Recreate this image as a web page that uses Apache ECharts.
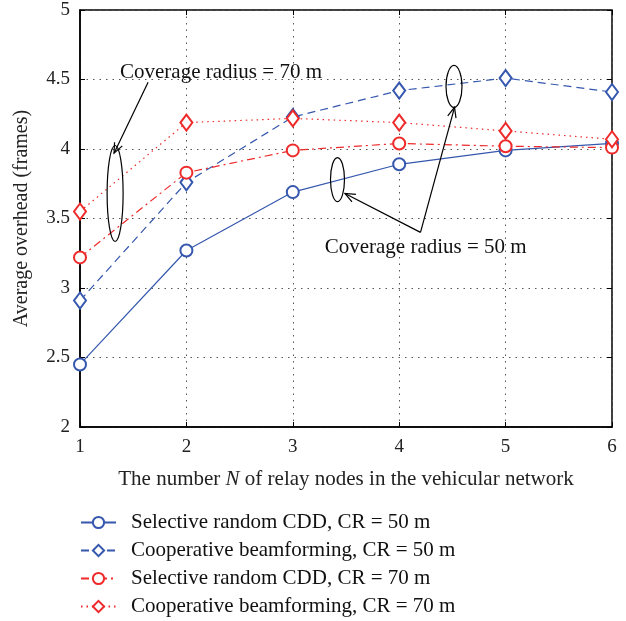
<!DOCTYPE html>
<html>
<head>
<meta charset="utf-8">
<script src="https://cdn.jsdelivr.net/npm/echarts@6/dist/echarts.min.js"></script>
<style>
  html, body { margin: 0; padding: 0; background: #fff; }
  #chart { width: 626px; height: 621px; }
</style>
</head>
<body>
<div id="chart"></div>
<script>
// relay nodes N
const relayNodes = [1, 2, 3, 4, 5, 6]

// average overhead (frames)
const cddCR50 = [2.45, 3.27, 3.69, 3.89, 3.99, 4.04]
const beamCR50 = [2.91, 3.76, 4.23, 4.42, 4.51, 4.41]
const cddCR70 = [3.22, 3.83, 3.99, 4.04, 4.02, 4.01]
const beamCR70 = [3.55, 4.19, 4.22, 4.19, 4.13, 4.07]

const seriesNames = [
  'Selective random CDD, CR = 50 m',
  'Cooperative beamforming, CR = 50 m',
  'Selective random CDD, CR = 70 m',
  'Cooperative beamforming, CR = 70 m'
]

const yTicks = [2, 2.5, 3, 3.5, 4, 4.5, 5]

const BLUE = '#3557ad'
const RED = '#ee2a2a'
const FONT = 'Liberation Serif'

const chart = echarts.init(document.getElementById('chart'))

const pairs = vals => relayNodes.map((n, i) => [n, vals[i]])

const makeSeries = (name, vals, color, symbol, dash, size) => ({
  name,
  type: 'line',
  data: pairs(vals),
  symbol,
  symbolSize: size,
  showAllSymbol: true,
  lineStyle: { color, width: 1.2, type: dash },
  itemStyle: { color, borderColor: color, borderWidth: 1.2 },
  emphasis: { disabled: true },
  z: 3
})

const tickStyle = { inside: true, length: 5, lineStyle: { color: '#000', width: 1 } }

const option = {
  animation: false,
  backgroundColor: '#fff',
  textStyle: { fontFamily: FONT },
  grid: {
    left: 80, right: 14, top: 10, bottom: 194,
    show: true, borderColor: '#000', borderWidth: 1.5
  },
  legend: {
    orient: 'vertical',
    left: 80,
    top: 512,
    padding: 0,
    itemWidth: 35,
    itemHeight: 14,
    itemGap: 7,
    textStyle: { fontFamily: FONT, fontSize: 21, color: '#111', padding: [0, 0, 0, 10] },
    data: seriesNames
  },
  xAxis: [
    {
      type: 'value',
      min: 1, max: 6, interval: 1,
      axisLine: { lineStyle: { color: '#000', width: 1.5 } },
      axisTick: tickStyle,
      axisLabel: { fontFamily: FONT, fontSize: 19, color: '#222', margin: 11 },
      splitLine: { show: true, lineStyle: { color: '#555', type: [1.5, 5], width: 1 } },
      name: 'The number {i|N} of relay nodes in the vehicular network',
      nameLocation: 'middle',
      nameGap: 42,
      nameTextStyle: {
        fontFamily: FONT, fontSize: 21, color: '#222',
        rich: { i: { fontFamily: FONT, fontSize: 21, fontStyle: 'italic', color: '#222' } }
      }
    },
    {
      type: 'value', position: 'top',
      min: 1, max: 6, interval: 1,
      axisLine: { show: false },
      axisTick: tickStyle,
      axisLabel: { show: false },
      splitLine: { show: false }
    }
  ],
  yAxis: [
    {
      type: 'value',
      min: 2, max: 5, interval: 0.5,
      axisLine: { show: true, lineStyle: { color: '#000', width: 1.5 } },
      axisTick: { show: true, ...tickStyle },
      axisLabel: {
        fontFamily: FONT, fontSize: 19, color: '#222', margin: 10,
        formatter: v => (yTicks.includes(v) ? String(v) : '')
      },
      splitLine: { show: true, lineStyle: { color: '#555', type: [1.5, 5], width: 1 } },
      name: 'Average overhead (frames)',
      nameLocation: 'middle',
      nameGap: 48,
      nameTextStyle: { fontFamily: FONT, fontSize: 20, color: '#222' }
    },
    {
      type: 'value', position: 'right',
      min: 2, max: 5, interval: 0.5,
      axisLine: { show: false },
      axisTick: { show: true, ...tickStyle },
      axisLabel: { show: false },
      splitLine: { show: false }
    }
  ],
  series: [
    makeSeries(seriesNames[0], cddCR50, BLUE, 'emptyCircle', 'solid', 12),
    makeSeries(seriesNames[1], beamCR50, BLUE, 'emptyDiamond', [8, 5], [12, 16]),
    makeSeries(seriesNames[2], cddCR70, RED, 'emptyCircle', [8, 4, 2, 4], 12),
    makeSeries(seriesNames[3], beamCR70, RED, 'emptyDiamond', [1.5, 4], [12, 16])
  ]
}

chart.setOption(option)

// annotations, placed in data coordinates
const px = (x, y) => chart.convertToPixel({ gridIndex: 0 }, [x, y])

const ellipse = (x, y, rx, ry) => {
  const [cx, cy] = px(x, y)
  return {
    type: 'ellipse',
    shape: { cx, cy, rx, ry },
    style: { fill: null, stroke: '#000', lineWidth: 1.2 },
    z: 10
  }
}

const arrow = (from, to) => {
  const a = px(from[0], from[1])
  const b = px(to[0], to[1])
  const ang = Math.atan2(b[1] - a[1], b[0] - a[0])
  const len = 11, spread = 0.4
  const h1 = [b[0] - len * Math.cos(ang - spread), b[1] - len * Math.sin(ang - spread)]
  const h2 = [b[0] - len * Math.cos(ang + spread), b[1] - len * Math.sin(ang + spread)]
  return [
    { type: 'polyline', shape: { points: [a, b] }, style: { stroke: '#000', lineWidth: 1.2, fill: null }, z: 10 },
    { type: 'polyline', shape: { points: [h1, b, h2] }, style: { stroke: '#000', lineWidth: 1.2, fill: null }, z: 10 }
  ]
}

const label = (x, y, text) => {
  const [lx, ly] = px(x, y)
  return {
    type: 'text',
    x: lx, y: ly,
    style: { text, fontFamily: FONT, fontSize: 21, fill: '#111', verticalAlign: 'middle', align: 'left' },
    z: 11
  }
}

chart.setOption({
  graphic: [
    ellipse(1.33, 3.68, 8, 48),
    ellipse(3.42, 3.78, 7, 22),
    ellipse(4.515, 4.45, 8, 21),
    ...arrow([1.64, 4.48], [1.32, 3.97]),
    ...arrow([4.2, 3.40], [3.49, 3.68]),
    ...arrow([4.2, 3.40], [4.52, 4.30]),
    label(1.376, 4.55, 'Coverage radius = 70 m'),
    label(3.30, 3.29, 'Coverage radius = 50 m')
  ]
})
</script>
</body>
</html>
